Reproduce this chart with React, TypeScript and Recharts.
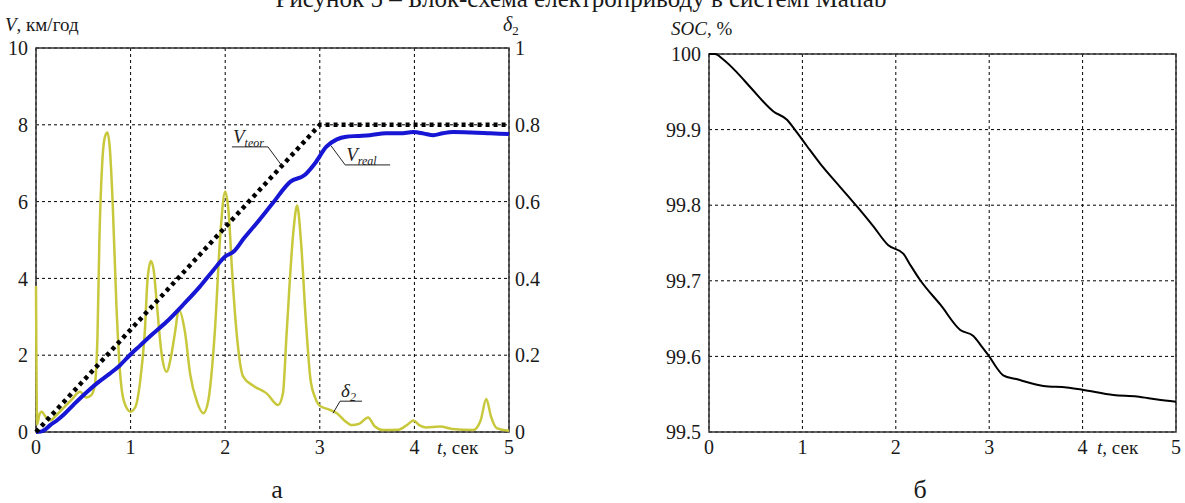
import React from 'react';
import {
  LineChart,
  Line,
  XAxis,
  YAxis,
  CartesianGrid,
  ReferenceArea,
  ReferenceDot,
} from 'recharts';

// time ticks shared by both plots
const tTicks = [0, 1, 2, 3, 4, 5];
const vTicks = [0, 2, 4, 6, 8, 10];
const dTicks = [0, 0.2, 0.4, 0.6, 0.8, 1];
const socTicks = [99.5, 99.6, 99.7, 99.8, 99.9, 100];

// theoretical speed, km/h
const vTeor = [
  { t: 0, v: 0 },
  { t: 3, v: 8 },
  { t: 5, v: 8 },
];

// real speed, km/h
const vReal = [
  { t: 0, v: 0 }, { t: 0.05, v: 0.01 }, { t: 0.1, v: 0.07 }, { t: 0.15, v: 0.18 },
  { t: 0.22, v: 0.3 }, { t: 0.3, v: 0.47 }, { t: 0.4, v: 0.72 }, { t: 0.55, v: 1.07 },
  { t: 0.65, v: 1.28 }, { t: 0.78, v: 1.52 }, { t: 0.88, v: 1.72 }, { t: 0.99, v: 2.0 },
  { t: 1.1, v: 2.25 }, { t: 1.2, v: 2.48 }, { t: 1.38, v: 2.87 }, { t: 1.55, v: 3.3 },
  { t: 1.73, v: 3.78 }, { t: 1.87, v: 4.2 }, { t: 2.0, v: 4.57 }, { t: 2.09, v: 4.7 },
  { t: 2.2, v: 5.05 }, { t: 2.33, v: 5.43 }, { t: 2.5, v: 5.95 }, { t: 2.69, v: 6.52 },
  { t: 2.84, v: 6.69 }, { t: 2.95, v: 7.0 }, { t: 3.07, v: 7.43 }, { t: 3.18, v: 7.62 },
  { t: 3.28, v: 7.69 }, { t: 3.4, v: 7.71 }, { t: 3.53, v: 7.73 }, { t: 3.7, v: 7.78 },
  { t: 3.85, v: 7.78 }, { t: 3.99, v: 7.81 }, { t: 4.1, v: 7.77 }, { t: 4.2, v: 7.73 },
  { t: 4.3, v: 7.78 }, { t: 4.41, v: 7.81 }, { t: 4.6, v: 7.8 }, { t: 4.8, v: 7.78 },
  { t: 5, v: 7.76 },
];

// duty cycle delta2 (right axis)
const delta2 = [
  { t: 0, d: 0.38 }, { t: 0.012, d: 0.02 }, { t: 0.035, d: 0.045 }, { t: 0.06, d: 0.053 },
  { t: 0.1, d: 0.04 }, { t: 0.15, d: 0.03 }, { t: 0.22, d: 0.045 }, { t: 0.3, d: 0.065 },
  { t: 0.38, d: 0.085 }, { t: 0.465, d: 0.105 }, { t: 0.53, d: 0.09 }, { t: 0.58, d: 0.095 },
  { t: 0.62, d: 0.12 }, { t: 0.65, d: 0.25 }, { t: 0.67, d: 0.5 }, { t: 0.7, d: 0.7 },
  { t: 0.73, d: 0.77 }, { t: 0.755, d: 0.78 }, { t: 0.78, d: 0.74 }, { t: 0.81, d: 0.6 },
  { t: 0.85, d: 0.33 }, { t: 0.89, d: 0.15 }, { t: 0.93, d: 0.08 }, { t: 1.0, d: 0.053 },
  { t: 1.05, d: 0.065 }, { t: 1.1, d: 0.13 }, { t: 1.15, d: 0.26 }, { t: 1.18, d: 0.4 },
  { t: 1.215, d: 0.445 }, { t: 1.245, d: 0.42 }, { t: 1.275, d: 0.34 }, { t: 1.33, d: 0.2 },
  { t: 1.38, d: 0.157 }, { t: 1.43, d: 0.2 }, { t: 1.47, d: 0.26 }, { t: 1.51, d: 0.318 },
  { t: 1.575, d: 0.26 }, { t: 1.63, d: 0.15 }, { t: 1.7, d: 0.08 }, { t: 1.77, d: 0.049 },
  { t: 1.82, d: 0.08 }, { t: 1.89, d: 0.26 }, { t: 1.95, d: 0.52 }, { t: 2.0, d: 0.626 },
  { t: 2.04, d: 0.56 }, { t: 2.07, d: 0.43 }, { t: 2.12, d: 0.26 }, { t: 2.19, d: 0.144 },
  { t: 2.3, d: 0.12 }, { t: 2.44, d: 0.1 }, { t: 2.56, d: 0.07 }, { t: 2.61, d: 0.1 },
  { t: 2.65, d: 0.26 }, { t: 2.72, d: 0.52 }, { t: 2.76, d: 0.59 }, { t: 2.8, d: 0.5 },
  { t: 2.85, d: 0.3 }, { t: 2.9, d: 0.14 }, { t: 2.95, d: 0.09 }, { t: 3.0, d: 0.068 },
  { t: 3.08, d: 0.06 }, { t: 3.18, d: 0.049 }, { t: 3.26, d: 0.03 }, { t: 3.34, d: 0.018 },
  { t: 3.42, d: 0.022 }, { t: 3.51, d: 0.038 }, { t: 3.58, d: 0.015 }, { t: 3.67, d: 0.005 },
  { t: 3.83, d: 0.006 }, { t: 3.92, d: 0.018 }, { t: 3.99, d: 0.03 }, { t: 4.05, d: 0.018 },
  { t: 4.12, d: 0.012 }, { t: 4.27, d: 0.014 }, { t: 4.4, d: 0.008 }, { t: 4.62, d: 0.005 },
  { t: 4.7, d: 0.03 }, { t: 4.76, d: 0.086 }, { t: 4.81, d: 0.04 }, { t: 4.87, d: 0.01 },
  { t: 5.0, d: 0.003 },
];

// battery state of charge, %
const soc = [
  { t: 0, s: 100 }, { t: 0.064, s: 100 }, { t: 0.15, s: 99.993 }, { t: 0.296, s: 99.976 },
  { t: 0.45, s: 99.955 }, { t: 0.69, s: 99.924 }, { t: 0.835, s: 99.913 }, { t: 0.925, s: 99.899 },
  { t: 1.05, s: 99.878 }, { t: 1.19, s: 99.855 }, { t: 1.405, s: 99.824 }, { t: 1.6, s: 99.796 },
  { t: 1.76, s: 99.772 }, { t: 1.92, s: 99.747 }, { t: 2.08, s: 99.736 }, { t: 2.15, s: 99.722 },
  { t: 2.26, s: 99.701 }, { t: 2.48, s: 99.668 }, { t: 2.69, s: 99.635 }, { t: 2.83, s: 99.627 },
  { t: 2.92, s: 99.613 }, { t: 3.0, s: 99.6 }, { t: 3.08, s: 99.585 }, { t: 3.15, s: 99.575 },
  { t: 3.29, s: 99.57 }, { t: 3.58, s: 99.561 }, { t: 3.83, s: 99.559 }, { t: 4.0, s: 99.556 },
  { t: 4.33, s: 99.549 }, { t: 4.58, s: 99.547 }, { t: 4.8, s: 99.543 }, { t: 5, s: 99.54 },
];

const SERIF = '"Liberation Serif", "Times New Roman", serif';
const tickStyle = { fill: '#1a1a1a', fontSize: 20, fontFamily: SERIF };
const gridColor = '#000';

// label with an underline and a leader line to the curve
const callout = (main: string, sub: string, dx: number, dy: number, len: number) =>
  (p: any) => {
    const ex = p.cx + dx;
    const ey = p.cy + dy;
    const x0 = dx < 0 ? ex - len : ex;
    const x1 = dx < 0 ? ex : ex + len;
    return (
      <g>
        <line x1={p.cx} y1={p.cy} x2={ex} y2={ey} stroke="#222" strokeWidth={1} />
        <line x1={x0} y1={ey} x2={x1} y2={ey} stroke="#222" strokeWidth={1} />
        <text x={x0 + 1} y={ey - 4} fontFamily={SERIF} fontStyle="italic" fontSize={19} fill="#222">
          {main}
          <tspan fontSize={12} dy={4}>{sub}</tspan>
        </text>
      </g>
    );
  };

const SpeedChart = () => (
  <LineChart width={560} height={480} margin={{ top: 48, right: 5, bottom: 18, left: 0 }} style={{ fontFamily: SERIF }}>
    <CartesianGrid strokeDasharray="3 3" stroke={gridColor} />
    <XAxis
      type="number"
      dataKey="t"
      domain={[0, 5]}
      ticks={tTicks}
      height={30}
      tickLine={false}
      axisLine={false}
      tick={tickStyle}
    />
    <YAxis
      type="number"
      domain={[0, 10]}
      ticks={vTicks}
      width={36}
      tickLine={false}
      axisLine={false}
      tick={tickStyle}
    />
    <YAxis
      yAxisId="d"
      orientation="right"
      type="number"
      domain={[0, 1]}
      ticks={dTicks}
      width={46}
      tickLine={false}
      axisLine={false}
      tickMargin={0}
      tick={tickStyle}
    />
    <Line
      data={delta2}
      dataKey="d"
      yAxisId="d"
      type="monotone"
      stroke="#c8c83c"
      strokeWidth={2.5}
      dot={false}
      isAnimationActive={false}
    />
    <Line
      data={vReal}
      dataKey="v"
      type="monotone"
      stroke="#1616d4"
      strokeWidth={4}
      dot={false}
      isAnimationActive={false}
    />
    <Line
      data={vTeor}
      dataKey="v"
      type="linear"
      stroke="#000"
      strokeWidth={4.5}
      strokeDasharray="4 4"
      dot={false}
      isAnimationActive={false}
    />
    <ReferenceArea x1={0} x2={5} y1={0} y2={10} fill="none" stroke="#333" strokeWidth={1.5} />
    <ReferenceDot x={2.6} y={6.93} r={0} shape={callout('V', 'teor', -14, -19, 36)} />
    <ReferenceDot x={3.12} y={7.45} r={0} shape={callout('V', 'real', 14, 19, 45)} />
    <ReferenceDot x={3.14} y={0.049} yAxisId="d" r={0} shape={callout('δ', '2', 7, -12, 22)} />
  </LineChart>
);

const SocChart = () => (
  <LineChart width={545} height={480} margin={{ top: 54, right: 9, bottom: 18, left: 0 }} style={{ fontFamily: SERIF }}>
    <CartesianGrid strokeDasharray="3 3" stroke={gridColor} />
    <XAxis
      type="number"
      dataKey="t"
      domain={[0, 5]}
      ticks={tTicks}
      height={30}
      tickLine={false}
      axisLine={false}
      tick={tickStyle}
    />
    <YAxis
      type="number"
      domain={[99.5, 100]}
      ticks={socTicks}
      width={69}
      tickLine={false}
      axisLine={false}
      tick={tickStyle}
      tickFormatter={(v: number) => (v === 100 ? '100' : v.toFixed(1))}
    />
    <Line
      data={soc}
      dataKey="s"
      type="monotone"
      stroke="#000"
      strokeWidth={2}
      dot={false}
      isAnimationActive={false}
    />
    <ReferenceArea x1={0} x2={5} y1={99.5} y2={100} fill="none" stroke="#333" strokeWidth={1.5} />
  </LineChart>
);

export default function App() {
  return (
    <div style={{ position: 'absolute', left: 0, top: 0, width: 1185, height: 503, background: '#fff', overflow: 'hidden', fontFamily: SERIF }}>
      <div style={{ position: 'absolute', left: 0, top: 0 }}>
        <SpeedChart />
      </div>
      <div style={{ position: 'absolute', left: 640, top: 0 }}>
        <SocChart />
      </div>
      <svg width={1185} height={503} style={{ position: 'absolute', left: 0, top: 0, pointerEvents: 'none' }}>
        <g fontFamily={SERIF} fill="#1a1a1a">
          <text x={581} y={7} fontSize={25} textAnchor="middle">
            Рисунок 5 – Блок-схема електроприводу в системі Matlab
          </text>
          <text x={5} y={31} fontSize={19}>
            <tspan fontStyle="italic">V</tspan>, км/год
          </text>
          <text x={503} y={31} fontSize={20}>
            <tspan fontStyle="italic">δ</tspan>
            <tspan fontSize={13} dy={4}>2</tspan>
          </text>
          <text x={671} y={35} fontSize={19}>
            <tspan fontStyle="italic">SOC</tspan>, %
          </text>
          <text x={437} y={454} fontSize={19}>
            <tspan fontStyle="italic">t</tspan>, сек
          </text>
          <text x={1097} y={454} fontSize={19}>
            <tspan fontStyle="italic">t</tspan>, сек
          </text>
          <text x={277} y={498} fontSize={26} textAnchor="middle">а</text>
          <text x={920} y={498} fontSize={26} textAnchor="middle">б</text>
        </g>
      </svg>
    </div>
  );
}
